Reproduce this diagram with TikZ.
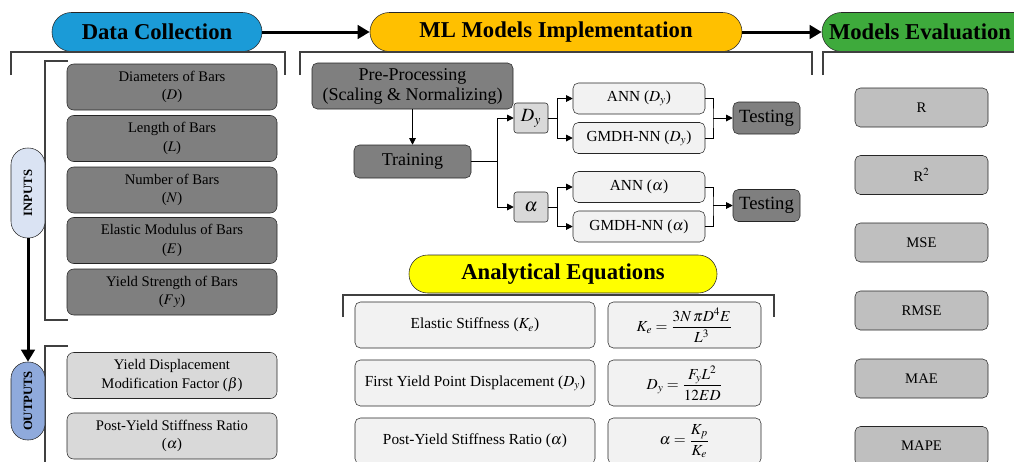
\documentclass[tikz,border=0pt]{standalone}
\usepackage{amsmath}
\usepackage{mathptmx}
\usepackage{fontspec}
\setmainfont{Liberation Serif}
\usetikzlibrary{positioning,arrows.meta}
\definecolor{collect}{RGB}{27,155,215}
\definecolor{implement}{RGB}{255,192,0}
\definecolor{evaluate}{RGB}{62,170,60}
\definecolor{analytic}{RGB}{255,255,0}
\definecolor{inwash}{RGB}{218,227,243}
\definecolor{outwash}{RGB}{143,170,220}
\definecolor{darkbox}{RGB}{127,127,127}
\definecolor{lightbox}{RGB}{217,217,217}
\definecolor{palebox}{RGB}{242,242,242}
\definecolor{evalbox}{RGB}{191,191,191}
\definecolor{edge}{RGB}{38,38,38}
\definecolor{bracket}{RGB}{64,64,64}

\begin{document}
\begin{tikzpicture}[x=0.75pt, y=-0.75pt,
		head/.style={draw=edge, rounded corners=14.5pt, minimum height=29.25pt,
			inner sep=0pt, font=\bfseries\fontsize{17}{20}\selectfont},
		pill/.style={draw=edge, rotate=90, rounded corners=12.5pt, minimum height=25.5pt,
			inner sep=0pt, font=\bfseries\fontsize{9.5}{11}\selectfont},
		card/.style={draw=edge, rounded corners=5pt, align=center, inner sep=0pt,
			minimum width=157.5pt, minimum height=34.5pt, font=\fontsize{11}{14}\selectfont},
		box/.style={draw=edge, rounded corners=4pt, align=center, inner sep=0pt},
		brk/.style={bracket, line width=1pt},
		bigarr/.style={-{Triangle[length=9pt, width=10pt]}, line width=2.25pt, black},
		arr/.style={-{Triangle[length=5pt, width=5pt]}, line width=0.75pt, black},
		line/.style={line width=0.75pt, black}]
	\useasboundingbox (0,0) rectangle (1014,461);

	% headers
	\node[head, fill=collect, minimum width=157.5pt] (dc) at (157,32) {Data Collection};
	\node[head, fill=implement, minimum width=279pt] (ml) at (556,32) {ML Models Implementation};
	\node[head, fill=evaluate, minimum width=172.5pt] (me) at (937,32)
		{Models Evaluation\hspace*{25.5pt}};
	\draw[bigarr] (dc) -- (ml);
	\draw[bigarr] (ml) -- (me);

	% brackets
	\draw[brk] (11,75) |- (285,52) -- (285,75);
	\draw[brk] (300,75) |- (812,52) -- (812,75);
	\draw[brk] (823,75) |- (1020,52);
	\draw[brk] (68,61) -| (45,320) -- (68,320);
	\draw[brk] (68,346) -| (45,470);
	\draw[brk] (343,317) |- (774,295) -- (774,317);

	% data collection
	\node[pill, fill=inwash, minimum width=67.5pt] (inp) at (28,193) {INPUTS};
	\node[pill, fill=outwash, minimum width=58.5pt] (outp) at (28,401) {OUTPUTS};
	\draw[bigarr] (inp) -- (outp);

	\node[card, fill=darkbox] (dia) at (172,87) {Diameters of Bars\\($D$)};
	\node[card, fill=darkbox] (len) at (172,138.5) {Length of Bars\\($L$)};
	\node[card, fill=darkbox] (num) at (172,190) {Number of Bars\\($N$)};
	\node[card, fill=darkbox] (ela) at (172,240.5) {Elastic Modulus of Bars\\($E$)};
	\node[card, fill=darkbox] (yld) at (172,292) {Yield Strength of Bars\\($Fy$)};
	\node[card, fill=lightbox] (ydm) at (172,375.5) {Yield Displacement\\Modification Factor ($\beta$)};
	\node[card, fill=lightbox] (psr) at (172,436) {Post-Yield Stiffness Ratio\\($\alpha$)};

	% ml models implementation
	\node[box, fill=darkbox, minimum width=150.75pt, minimum height=34.5pt,
		font=\fontsize{13.5}{15}\selectfont] (pre) at (412.5,86)
		{Pre-Processing\\(Scaling \& Normalizing)};
	\node[box, fill=darkbox, minimum width=87.75pt, minimum height=24.75pt,
		font=\fontsize{13.5}{15}\selectfont] (train) at (412.5,161.5) {Training};
	\draw[arr] (pre) -- (train);

	\node[box, fill=lightbox, rounded corners=2pt, minimum width=25.5pt, minimum height=22.5pt,
		font=\fontsize{14}{16}\selectfont] (dy) at (531,118) {$D_y$};
	\node[box, fill=lightbox, rounded corners=2pt, minimum width=25.5pt, minimum height=22.5pt,
		font=\fontsize{14}{16}\selectfont] (al) at (531,207) {$\alpha$};
	\draw[line] (train.east) -- (497,161.5) coordinate (split);
	\draw[arr] (split) |- (dy);
	\draw[arr] (split) |- (al);

	\node[box, fill=palebox, minimum width=99pt, minimum height=23.25pt,
		font=\fontsize{11.5}{13}\selectfont] (annd) at (639,98.5) {ANN ($D_y$)};
	\node[box, fill=palebox, minimum width=99pt, minimum height=23.25pt,
		font=\fontsize{11.5}{13}\selectfont] (gmdd) at (639,138) {GMDH-NN ($D_y$)};
	\node[box, fill=palebox, minimum width=99pt, minimum height=23.25pt,
		font=\fontsize{11.5}{13}\selectfont] (anna) at (639,187) {ANN ($\alpha$)};
	\node[box, fill=palebox, minimum width=99pt, minimum height=23.25pt,
		font=\fontsize{11.5}{13}\selectfont] (gmda) at (639,226.5) {GMDH-NN ($\alpha$)};
	\draw[line] (dy.east) -- (557,118) coordinate (sdy);
	\draw[arr] (sdy) |- (annd);
	\draw[arr] (sdy) |- (gmdd);
	\draw[line] (al.east) -- (557,207) coordinate (sal);
	\draw[arr] (sal) |- (anna);
	\draw[arr] (sal) |- (gmda);

	\node[box, fill=darkbox, minimum width=50.25pt, minimum height=24pt,
		font=\fontsize{14}{15}\selectfont] (test1) at (766.5,118) {Testing};
	\node[box, fill=darkbox, minimum width=50.25pt, minimum height=24pt,
		font=\fontsize{14}{15}\selectfont] (test2) at (766.5,205.5) {Testing};
	\coordinate (jd) at (713,118);
	\coordinate (ja) at (713,205.5);
	\draw[line] (annd.east) -| (jd) |- (gmdd.east);
	\draw[arr] (jd) -- (test1);
	\draw[line] (anna.east) -| (ja) |- (gmda.east);
	\draw[arr] (ja) -- (test2);

	% analytical equations
	\node[head, fill=analytic, minimum width=231pt, minimum height=28.5pt,
		rounded corners=14pt] (ae) at (563,274) {Analytical Equations};
	\node[box, fill=palebox, minimum width=180pt, minimum height=34.5pt,
		font=\fontsize{11.5}{13}\selectfont] (kel) at (475,325) {Elastic Stiffness ($K_e$)};
	\node[box, fill=palebox, minimum width=114.75pt, minimum height=34.5pt,
		font=\fontsize{11.5}{13}\selectfont] (ker) at (684.5,325)
		{$K_e=\dfrac{3N\,\pi D^4E}{L^3}$};
	\node[box, fill=palebox, minimum width=180pt, minimum height=34.5pt,
		font=\fontsize{11.5}{13}\selectfont] (dyl) at (475,383)
		{First Yield Point Displacement ($D_y$)};
	\node[box, fill=palebox, minimum width=114.75pt, minimum height=34.5pt,
		font=\fontsize{11.5}{13}\selectfont] (dyr) at (684.5,383)
		{$D_y=\dfrac{F_yL^2}{12ED}$};
	\node[box, fill=palebox, minimum width=180pt, minimum height=34.5pt,
		font=\fontsize{11.5}{13}\selectfont] (all) at (475,441)
		{Post-Yield Stiffness Ratio ($\alpha$)};
	\node[box, fill=palebox, minimum width=114.75pt, minimum height=34.5pt,
		font=\fontsize{11.5}{13}\selectfont] (alr) at (684.5,441)
		{$\alpha=\dfrac{K_p}{K_e}$};

	% models evaluation
	\node[box, fill=evalbox, minimum width=99.75pt, minimum height=29.25pt,
		font=\fontsize{11}{13}\selectfont] (r) at (921.5,107.5) {R};
	\node[box, fill=evalbox, minimum width=99.75pt, minimum height=29.25pt,
		font=\fontsize{11}{13}\selectfont] (r2) at (921.5,175) {R$^2$};
	\node[box, fill=evalbox, minimum width=99.75pt, minimum height=29.25pt,
		font=\fontsize{11}{13}\selectfont] (mse) at (921.5,242.5) {MSE};
	\node[box, fill=evalbox, minimum width=99.75pt, minimum height=29.25pt,
		font=\fontsize{11}{13}\selectfont] (rmse) at (921.5,310.5) {RMSE};
	\node[box, fill=evalbox, minimum width=99.75pt, minimum height=29.25pt,
		font=\fontsize{11}{13}\selectfont] (mae) at (921.5,378.5) {MAE};
	\node[box, fill=evalbox, minimum width=99.75pt, minimum height=29.25pt,
		font=\fontsize{11}{13}\selectfont] (mape) at (921.5,446) {MAPE};
\end{tikzpicture}
\end{document}
